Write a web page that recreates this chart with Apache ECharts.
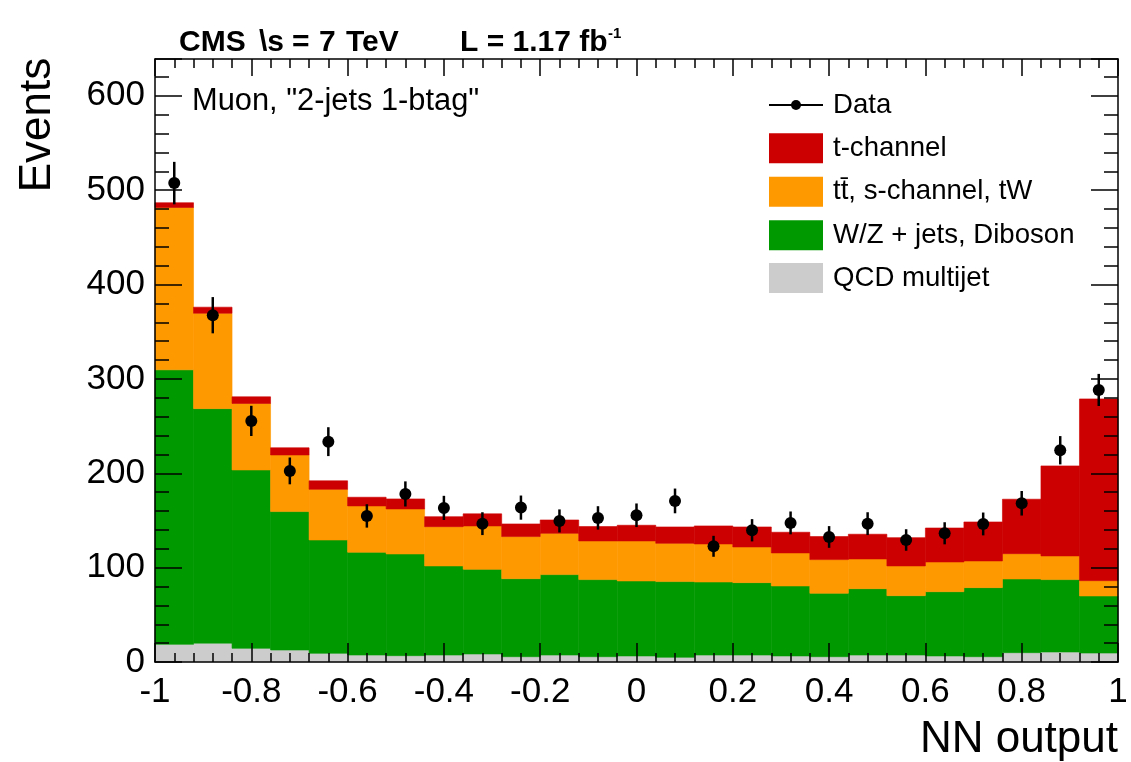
<!DOCTYPE html>
<html>
<head>
<meta charset="utf-8">
<script src="https://cdn.jsdelivr.net/npm/echarts@6/dist/echarts.min.js"></script>
<style>
html,body{margin:0;padding:0;background:#ffffff;}
#chart{width:1131px;height:762px;}
</style>
</head>
<body>
<div id="chart"></div>
<script>
// ---- data ----
const binCenters = [-0.96,-0.88,-0.80,-0.72,-0.64,-0.56,-0.48,-0.40,-0.32,-0.24,-0.16,-0.08,0.00,0.08,0.16,0.24,0.32,0.40,0.48,0.56,0.64,0.72,0.80,0.88,0.96];
const binWidth = 0.08;
const qcd   = [18.7,20.0,14.5,12.7,9.2,7.4,6.7,7.4,8.5,5.6,7.4,5.6,6.4,5.0,7.4,7.4,6.4,5.6,7.4,7.4,6.4,5.6,9.9,10.6,9.5];
const wjets = [290.9,248.5,189.0,146.7,120.1,108.9,107.8,94.4,89.7,82.7,85.2,81.7,79.5,80.2,77.4,76.7,74.2,67.2,70.3,62.9,68.1,73.2,78.1,76.7,60.5];
const ttbar = [172.1,101.1,70.5,60.0,53.7,49.1,47.7,41.6,46.0,44.6,43.8,41.0,42.4,40.6,40.3,37.8,35.0,35.7,31.5,31.5,31.5,28.3,26.8,25.1,16.2];
const tchan = [5.0,6.4,7.0,7.6,9.0,9.2,10.6,10.6,12.8,13.4,14.1,15.2,16.6,17.3,19.1,21.2,21.9,24.4,26.2,30.0,36.0,41.3,57.7,95.4,192.6];
const dataVals = [507.5,367.5,255.5,202.5,233.5,154.8,178.1,163.3,146.6,163.6,149.5,152.7,155.5,170.7,122.6,139.6,147.4,132.5,146.6,129.3,136.4,146.3,168.2,224.4,288.3];
const dataErr  = [22.5,19.2,16.0,14.2,15.3,12.4,13.3,12.8,12.1,12.8,12.2,12.4,12.5,13.1,11.1,11.8,12.1,11.5,12.1,11.4,11.7,12.1,13.0,15.0,17.0];
const legendNames = ['Data','t-channel','t\u0074\u0304, s-channel, tW','W/Z + jets, Diboson','QCD multijet'];
const xMin = -1, xMax = 1, xStep = 0.2;
const yMin = 0, yMax = 639, yStep = 100;

// ---- build stacked histogram ----
const FONT = 'Liberation Sans, Arial, Helvetica, sans-serif';
const comps = [
  {name: legendNames[4], vals: qcd,   color: '#cccccc'},
  {name: legendNames[3], vals: wjets, color: '#009900'},
  {name: legendNames[2], vals: ttbar, color: '#ff9900'},
  {name: legendNames[1], vals: tchan, color: '#cc0000'}
];
const base = binCenters.map(() => 0);
const series = comps.map(c => {
  const d = c.vals.map((v, i) => {
    const lo = base[i];
    const hi = lo + v;
    base[i] = hi;
    return [binCenters[i] - binWidth / 2, binCenters[i] + binWidth / 2, lo, hi];
  });
  return {
    type: 'custom', name: c.name, xAxisIndex: 0, yAxisIndex: 0, silent: true, z: 2,
    data: d,
    encode: {x: [0, 1], y: [2, 3]},
    renderItem: (params, api) => {
      const p1 = api.coord([api.value(0), api.value(3)]);
      const p2 = api.coord([api.value(1), api.value(2)]);
      return {
        type: 'rect',
        shape: {x: p1[0], y: p1[1], width: p2[0] - p1[0], height: p2[1] - p1[1]},
        style: {fill: c.color, stroke: c.color, lineWidth: 0.6}
      };
    }
  };
});

series.push({
  type: 'custom', name: 'Data', xAxisIndex: 0, yAxisIndex: 0, silent: true, z: 5,
  data: binCenters.map((x, i) => [x, dataVals[i], dataErr[i]]),
  encode: {x: 0, y: 1},
  renderItem: (params, api) => {
    const x = api.value(0), y = api.value(1), e = api.value(2);
    const pc = api.coord([x, y]);
    const pt = api.coord([x, y + e]);
    const pb = api.coord([x, y - e]);
    return {
      type: 'group',
      children: [
        {type: 'line', shape: {x1: pt[0], y1: pt[1], x2: pb[0], y2: pb[1]}, style: {stroke: '#000', lineWidth: 2.5}},
        {type: 'circle', shape: {cx: pc[0], cy: pc[1], r: 6}, style: {fill: '#000'}}
      ]
    };
  }
});

const lineStyle = {color: '#000', width: 1.5};
function mkX(pos, showLabel, tickLen, minorLen) {
  return {
    type: 'value', min: xMin, max: xMax, interval: xStep, position: pos, z: 10,
    axisLine: {show: true, onZero: false, lineStyle: lineStyle},
    axisTick: {show: true, inside: true, length: tickLen, lineStyle: lineStyle},
    minorTick: {show: true, splitNumber: 5, length: minorLen, lineStyle: lineStyle},
    splitLine: {show: false}, minorSplitLine: {show: false},
    axisLabel: {show: showLabel, fontSize: 35, color: '#000', margin: 13, fontFamily: FONT}
  };
}
function mkY(pos, showLabel) {
  return {
    type: 'value', min: yMin, max: yMax, interval: yStep, position: pos, z: 10,
    axisLine: {show: true, onZero: false, lineStyle: lineStyle},
    axisTick: {show: true, inside: true, length: 27, lineStyle: lineStyle},
    minorTick: {show: true, splitNumber: 5, length: 14, lineStyle: lineStyle},
    splitLine: {show: false}, minorSplitLine: {show: false},
    axisLabel: {show: showLabel, fontSize: 35, color: '#000', margin: 10, fontFamily: FONT, showMaxLabel: false}
  };
}

// ---- legend + texts as graphic ----
const legX = 769, legW = 54, legTextX = 833;
const legRows = [105, 148.3, 191.7, 235.3, 278];
const legColors = [null, '#cc0000', '#ff9900', '#009900', '#cccccc'];
const graphics = [];
legendNames.forEach((n, i) => {
  const cy = legRows[i];
  if (i === 0) {
    graphics.push({type: 'line', shape: {x1: legX, y1: cy, x2: legX + legW, y2: cy}, style: {stroke: '#000', lineWidth: 2}});
    graphics.push({type: 'circle', shape: {cx: legX + legW / 2, cy: cy, r: 5}, style: {fill: '#000'}});
  } else {
    graphics.push({type: 'rect', shape: {x: legX, y: cy - 15, width: legW, height: 30}, style: {fill: legColors[i]}});
  }
  graphics.push({type: 'text', x: legTextX, y: cy, style: {text: n, font: '27.6px ' + FONT, fill: '#000', verticalAlign: 'middle', align: 'left'}});
});
const titleFont = 'bold 30px ' + FONT;
[['CMS', 179], ['\\s', 259], ['=', 292], ['7', 319], ['TeV', 346], ['L = 1.17 fb', 460]].forEach(p => {
  graphics.push({type: 'text', x: p[1], y: 43, style: {text: p[0], font: titleFont, fill: '#000', verticalAlign: 'middle', align: 'left'}});
});
graphics.push({type: 'text', x: 608, y: 34, style: {text: '-1', font: 'bold 15px ' + FONT, fill: '#000', verticalAlign: 'middle', align: 'left'}});
graphics.push({type: 'text', x: 192, y: 102, style: {text: 'Muon, "2-jets 1-btag"', font: '30.8px ' + FONT, fill: '#000', verticalAlign: 'middle', align: 'left'}});
graphics.push({type: 'text', x: 1118, y: 740, style: {text: 'NN output', font: '44px ' + FONT, fill: '#000', verticalAlign: 'middle', align: 'right'}});
graphics.push({type: 'text', x: 38, y: 125, rotation: Math.PI / 2, style: {text: 'Events', font: '44px ' + FONT, fill: '#000', verticalAlign: 'middle', align: 'center'}});

const chart = echarts.init(document.getElementById('chart'), null, {renderer: 'canvas'});
chart.setOption({
  animation: false,
  backgroundColor: '#ffffff',
  textStyle: {fontFamily: FONT},
  grid: {left: 155, right: 13, top: 59, bottom: 100, containLabel: false, outerBoundsMode: 'none'},
  xAxis: [mkX('bottom', true, 19, 9), mkX('top', false, 17, 9)],
  yAxis: [mkY('left', true), mkY('right', false)],
  series: series,
  graphic: graphics
});
</script>
</body>
</html>
